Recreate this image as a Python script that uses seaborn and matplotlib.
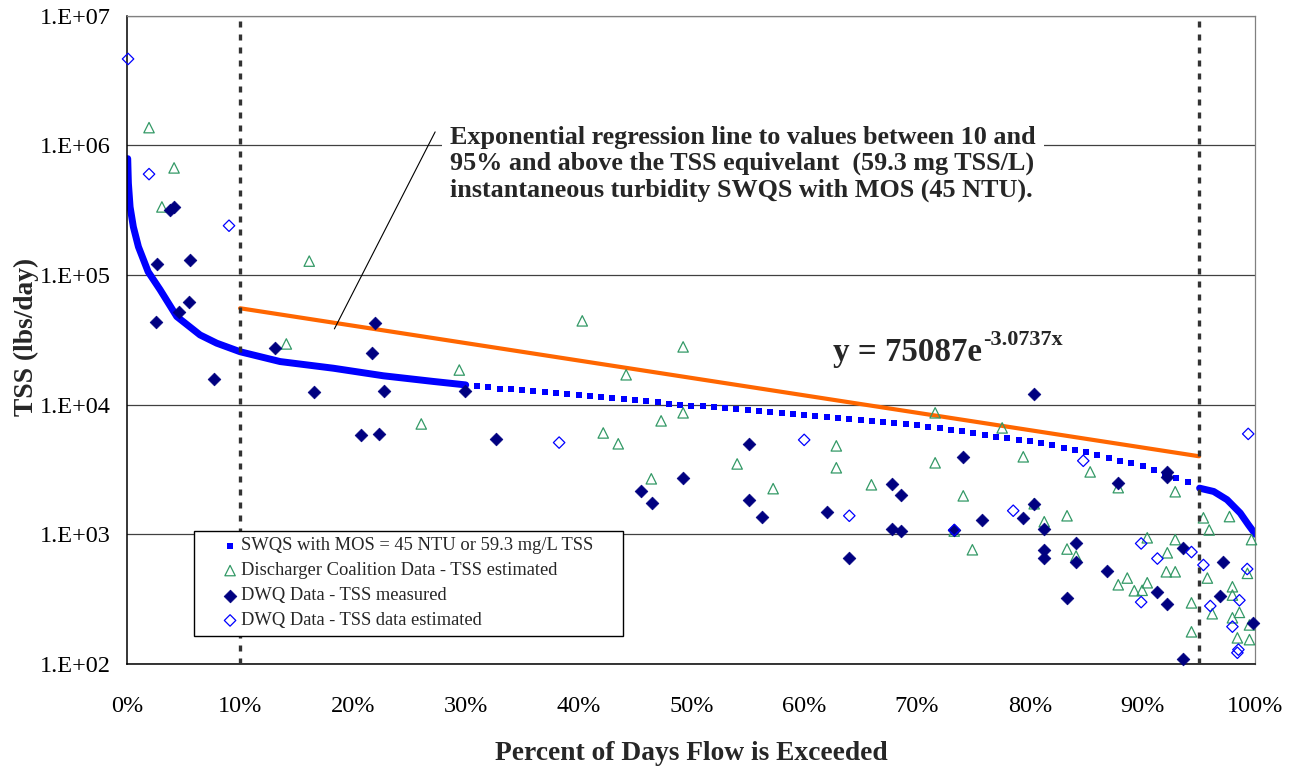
import numpy as np
import seaborn as sns
import matplotlib
matplotlib.use("Agg")
import matplotlib.pyplot as plt
from matplotlib.ticker import FixedLocator, FuncFormatter, LogLocator, NullFormatter

# SWQS load duration curve (lbs/day) - dense start, daily squares, dense tail
swqs_head_pct = [0.04, 0.07, 0.1, 0.25, 0.54, 0.99, 1.85, 2.91, 4.39, 6.45, 7.93,
                 10.0, 13.55, 18.27, 22.7, 27.14, 30.0]
swqs_head_val = [790000, 630000, 510000, 335000, 235000, 165000, 106000, 77000, 47800,
                 34500, 29800, 25600, 21500, 19100, 16700, 15100, 14200]
swqs_mid_pct = list(range(31, 95))
swqs_mid_val = [13900, 13600, 13300, 13100, 12900, 12700, 12500, 12300, 12100, 11900,
                11600, 11400, 11200, 11000, 10800, 10600, 10400, 10200, 10000, 9820,
                9680, 9530, 9380, 9250, 9100, 8950, 8810, 8650, 8510, 8360,
                8220, 8070, 7930, 7780, 7660, 7520, 7360, 7210, 7060, 6920,
                6760, 6590, 6400, 6210, 6030, 5850, 5650, 5520, 5360, 5200,
                5020, 4850, 4660, 4470, 4280, 4090, 3890, 3700, 3520, 3350,
                3150, 2920, 2720, 2510]
swqs_tail_pct = [95.05, 96.3, 97.48, 98.65, 99.39, 100.0]
swqs_tail_val = [2270, 2140, 1850, 1460, 1180, 1000]

# Discharger Coalition Data - TSS estimated
dc_pct = [1.93, 4.15, 3.07, 16.13, 14.1, 29.43, 26.06, 40.33, 49.27, 44.22,
          49.27, 47.32, 42.19, 43.52, 46.45, 54.06, 57.25, 62.85, 62.85, 65.96,
          71.61, 77.55, 71.61, 79.42, 85.35, 87.84, 92.89, 74.1, 80.39, 73.3,
          74.91, 81.28, 83.3, 83.3, 84.1, 87.84, 88.64, 89.26, 89.96, 90.41,
          90.41, 92.19, 92.1, 92.89, 92.89, 94.33, 94.33, 95.74, 96.17, 97.96,
          97.96, 97.96, 98.58, 98.4, 99.47, 99.47, 99.29, 99.65, 95.39, 95.9, 97.7]
dc_val = [1.37e6, 6.7e5, 3.35e5, 1.28e5, 2.94e4, 1.85e4, 7.1e3, 4.43e4, 2.79e4, 1.7e4,
          8.65e3, 7.5e3, 6.05e3, 4.99e3, 2.68e3, 3.49e3, 2.25e3, 4.81e3, 3.26e3, 2.41e3,
          8.65e3, 6.62e3, 3.56e3, 3.96e3, 3.03e3, 2.29e3, 2.13e3, 1.98e3, 1.72e3, 1.06e3,
          760, 1.25e3, 1.39e3, 770, 680, 408, 460, 367, 370, 423,
          940, 720, 514, 514, 910, 296, 177, 460, 244, 394,
          340, 227, 250, 159, 154, 200, 500, 910, 1.34e3, 1.08e3, 1.37e3]

# DWQ Data - TSS measured
dwq_pct = [3.79, 4.15, 2.64, 5.57, 2.55, 4.59, 5.48, 7.70, 13.10, 16.56,
           21.97, 21.70, 22.77, 29.95, 20.73, 22.32, 32.70, 49.27, 45.55, 46.52,
           55.12, 55.12, 56.28, 62.04, 64.01, 67.82, 68.60, 67.82, 68.60, 73.30,
           74.10, 75.78, 80.39, 80.39, 79.42, 81.28, 81.28, 81.28, 84.11, 84.11,
           83.3, 86.86, 87.84, 92.19, 92.19, 91.31, 92.19, 93.61, 93.61, 97.15,
           96.88, 99.8]
dwq_val = [3.18e5, 3.35e5, 1.22e5, 1.31e5, 4.35e4, 5.2e4, 6.2e4, 1.58e4, 2.74e4, 1.26e4,
           4.28e4, 2.5e4, 1.28e4, 1.28e4, 5.85e3, 5.95e3, 5.45e3, 2.73e3, 2.16e3, 1.75e3,
           4.99e3, 1.85e3, 1.37e3, 1.49e3, 656, 2.45e3, 2.02e3, 1.1e3, 1.06e3, 1.08e3,
           3.96e3, 1.29e3, 1.21e4, 1.72e3, 1.34e3, 1.1e3, 760, 656, 850, 610,
           320, 520, 2.5e3, 3.03e3, 2.77e3, 360, 290, 790, 109, 610,
           336, 208]

# DWQ Data - TSS data estimated
est_pct = [0.07, 1.93, 9.02, 38.28, 60.0, 64.0, 73.3, 78.53, 84.74, 89.87,
           89.87, 91.31, 94.33, 95.39, 96.0, 98.58, 97.96, 98.49, 98.4, 99.27, 99.36]
est_val = [4.64e6, 6.0e5, 2.4e5, 5.1e3, 5.35e3, 1.39e3, 1.08e3, 1.52e3, 3.69e3, 850,
           300, 650, 730, 580, 280, 310, 194, 129, 122, 540, 5.95e3]

# exponential regression line (10% to 95%)
reg_pct = [10, 95]
reg_val = [55400, 4000]

x_ticks = list(range(0, 101, 10))
bounds_pct = [10, 95]

BLUE = "#0000FF"
NAVY = "#000080"
GREEN = "#339966"
ORANGE = "#FF6600"

sns.set_style("white")
plt.rcParams["font.family"] = ["Liberation Serif", "DejaVu Serif"]

fig = plt.figure(figsize=(12.92, 7.66), dpi=100)
ax = fig.add_axes([0.0985, 0.1332, 0.8732, 0.8463])
ax.set_yscale("log")

# SWQS curve
sns.lineplot(x=swqs_head_pct, y=swqs_head_val, color=BLUE, lw=5, estimator=None,
             sort=False, ax=ax, zorder=2)
sns.lineplot(x=swqs_tail_pct, y=swqs_tail_val, color=BLUE, lw=5, estimator=None,
             sort=False, ax=ax, zorder=2)
sns.scatterplot(x=swqs_mid_pct, y=swqs_mid_val, marker="s", s=19, color=BLUE,
                edgecolor=BLUE, linewidth=0, ax=ax, zorder=2,
                label="SWQS with MOS = 45 NTU or 59.3 mg/L TSS")

# regression line
sns.lineplot(x=reg_pct, y=reg_val, color=ORANGE, lw=3, estimator=None, ax=ax, zorder=2.5)

sns.scatterplot(x=dc_pct, y=dc_val, marker="^", s=56, color=GREEN, facecolors="none",
                edgecolor=GREEN, linewidth=0.9, ax=ax, zorder=3, clip_on=False,
                label="Discharger Coalition Data - TSS estimated")
sns.scatterplot(x=dwq_pct, y=dwq_val, marker="D", s=42, color=NAVY,
                edgecolor=NAVY, linewidth=0.5, ax=ax, zorder=3.2, clip_on=False,
                label="DWQ Data - TSS measured")
sns.scatterplot(x=est_pct, y=est_val, marker="D", s=34, color=BLUE, facecolors="none",
                edgecolor=BLUE, linewidth=0.9, ax=ax, zorder=3.4, clip_on=False,
                label="DWQ Data - TSS data estimated")

for b in bounds_pct:
    ax.axvline(b, color="#333333", lw=2.4, linestyle=(0, (1.8, 2.1)), zorder=4)

ax.set_xlim(0, 100)
ax.set_ylim(1e2, 1e7)

ax.xaxis.set_major_locator(FixedLocator(x_ticks))
ax.xaxis.set_minor_locator(FixedLocator(list(range(5, 100, 10))))
ax.xaxis.set_major_formatter(FuncFormatter(lambda v, p: f"{int(round(v))}%"))
ax.yaxis.set_major_locator(LogLocator(base=10, numticks=10))
ax.yaxis.set_minor_locator(LogLocator(base=10, subs=np.arange(2, 10), numticks=20))
ax.yaxis.set_minor_formatter(NullFormatter())
ax.yaxis.set_major_formatter(FuncFormatter(lambda v, p: f"1.E+{int(round(np.log10(v))):02d}"))

ax.tick_params(axis="both", which="both", direction="in", colors="black")
ax.tick_params(axis="x", which="major", length=5, width=1.2, pad=23, labelsize=17.5)
ax.tick_params(axis="x", which="minor", length=5, width=0.9)
ax.tick_params(axis="y", which="major", length=5, width=1, pad=12, labelsize=17.5)
ax.tick_params(axis="y", which="minor", length=4, width=0.9)

ax.yaxis.grid(True, which="major", color="#404040", lw=0.9)
ax.xaxis.grid(False)
ax.set_axisbelow(True)
ax.set_xlabel("")
ax.set_ylabel("")

for s in ["left", "bottom"]:
    ax.spines[s].set_color("black")
    ax.spines[s].set_linewidth(1.1)
for s in ["top", "right"]:
    ax.spines[s].set_color("#808080")
    ax.spines[s].set_linewidth(0.9)

# annotation
ax.text(28.6, 7.2e5,
        "Exponential regression line to values between 10 and\n"
        "95% and above the TSS equivelant  (59.3 mg TSS/L)\n"
        "instantaneous turbidity SWQS with MOS (45 NTU).",
        fontsize=18.8, fontweight="bold", ha="left", va="center", linespacing=1.17,
        bbox=dict(facecolor="white", edgecolor="none", pad=6), zorder=5)
ax.annotate("", xy=(18.36, 3.84e4), xytext=(27.29, 1.27e6),
            arrowprops=dict(arrowstyle="-", lw=0.8, color="black", shrinkA=0, shrinkB=0),
            zorder=5)

eq = ax.text(62.57, 2.19e4, "y = 75087e", fontsize=23.8, fontweight="bold",
             ha="left", va="baseline", zorder=5)
ax.annotate("-3.0737x", xy=(1, 0), xycoords=eq, xytext=(0.5, 16.3),
            textcoords="offset points", fontsize=16, fontweight="bold",
            ha="left", va="baseline", zorder=5)

handles, labels = ax.get_legend_handles_labels()
leg = ax.legend(handles, labels, loc="upper left",
                bbox_to_anchor=(0.0592, 0.0247, 0.3803, 0.1804), mode="expand",
                borderaxespad=0, fontsize=13.3, frameon=True, fancybox=False,
                edgecolor="black", framealpha=1, borderpad=0.35, labelspacing=0.43,
                handlelength=3.2, handletextpad=-1.0, scatterpoints=1)
leg.get_frame().set_linewidth(1.0)
leg.set_zorder(10)

fig.text(26 / 1292, 1 - 337 / 766, "TSS (lbs/day)", rotation=90, ha="center",
         va="center", fontsize=19.8, fontweight="bold")
fig.text(691 / 1292, 1 - 760 / 766, "Percent of Days Flow is Exceeded", ha="center",
         va="baseline", fontsize=19.8, fontweight="bold")

fig.savefig("out.png", dpi=100)
